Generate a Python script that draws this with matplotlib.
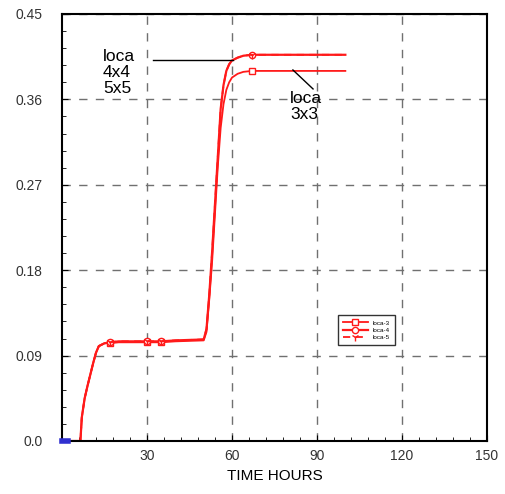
import numpy as np
import matplotlib
matplotlib.use("Agg")
import matplotlib.pyplot as plt
from matplotlib.ticker import MultipleLocator

plt.rcParams['font.family'] = ['Liberation Sans', 'DejaVu Sans']

# time (hours) and values
t = [0, 6.5, 7, 8, 9, 10, 11, 12, 13, 15, 17, 20, 30, 35, 40, 50, 51, 52, 53, 54,
     55, 56, 57, 58, 59, 60, 62, 64, 67, 70, 80, 100]
loca3 = [0, 0, 0.025, 0.045, 0.058, 0.070, 0.082, 0.093, 0.100, 0.103, 0.103, 0.104,
         0.104, 0.104, 0.105, 0.106, 0.115, 0.15, 0.19, 0.24, 0.29, 0.33, 0.355,
         0.37, 0.378, 0.383, 0.387, 0.389, 0.390, 0.390, 0.390, 0.390]
loca4 = [0, 0, 0.025, 0.045, 0.058, 0.070, 0.082, 0.093, 0.100, 0.103, 0.104, 0.105,
         0.105, 0.105, 0.106, 0.107, 0.118, 0.155, 0.20, 0.25, 0.30, 0.35, 0.375,
         0.39, 0.397, 0.401, 0.404, 0.406, 0.407, 0.407, 0.407, 0.407]
loca5 = loca4
marks = [10, 12, 13, 28]
blue_t = [0, 2]
blue_v = [0, 0]

xticks = [30, 60, 90, 120, 150]
yticks = [0.0, 0.09, 0.18, 0.27, 0.36, 0.45]
ylabels = ["0.0", "0.09", "0.18", "0.27", "0.36", "0.45"]

fig = plt.figure(figsize=(5.06, 4.94), dpi=100)
ax = fig.add_axes([0.1225, 0.1073, 0.84, 0.8644])

ax.plot(blue_t, blue_v, color='#3030d0', lw=4, zorder=5, clip_on=False)
ax.plot(t, loca3, color='#ff1a1a', lw=1.3, marker='s', markevery=marks, ms=5,
        mfc='white', mec='#ff1a1a', mew=1, label='loca-3')
ax.plot(t, loca4, color='#ff1a1a', lw=1.6, marker='o', markevery=marks, ms=4.5,
        mfc='white', mec='#ff1a1a', mew=1, label='loca-4')
ax.plot(t, loca5, color='#ff1a1a', lw=1.3, ls=(0, (4, 3)), marker='1',
        markevery=marks, ms=6, mec='#ff1a1a', mew=1, label='loca-5')

ax.plot([32, 60.4], [0.401, 0.401], color='black', lw=1)
ax.plot([81.5, 88.6], [0.391, 0.371], color='black', lw=1)
ax.text(14.5, 0.413, "loca\n4x4\n5x5", fontsize=12.5, va='top', ha='left',
        linespacing=1.1)
ax.text(80.5, 0.369, "loca\n3x3", fontsize=12.5, va='top', ha='left',
        linespacing=1.1)

ax.set_xlim(0, 150)
ax.set_ylim(0, 0.45)
ax.set_xticks(xticks)
ax.set_yticks(yticks)
ax.set_yticklabels(ylabels)
ax.xaxis.set_minor_locator(MultipleLocator(6))
ax.yaxis.set_minor_locator(MultipleLocator(0.018))
ax.tick_params(which='both', direction='in', labelsize=10, labelcolor='#333333')
ax.tick_params(which='major', length=4)
ax.tick_params(which='minor', length=3)
ax.tick_params(axis='x', pad=6)
ax.tick_params(axis='y', pad=14)
ax.grid(True, which='major', color='#707070', ls=(0, (6, 6)), lw=1)
ax.set_xlabel("TIME HOURS", fontsize=11)
for s in ax.spines.values():
    s.set_linewidth(1.5)

leg = ax.legend(loc='upper left', bbox_to_anchor=(0.642, 0.302), fontsize=4.5,
                handlelength=4, frameon=True, fancybox=False, borderpad=0.8,
                labelspacing=0.3)
leg.get_frame().set_edgecolor('black')
leg.get_frame().set_linewidth(1)

fig.savefig("out.png", dpi=100)
